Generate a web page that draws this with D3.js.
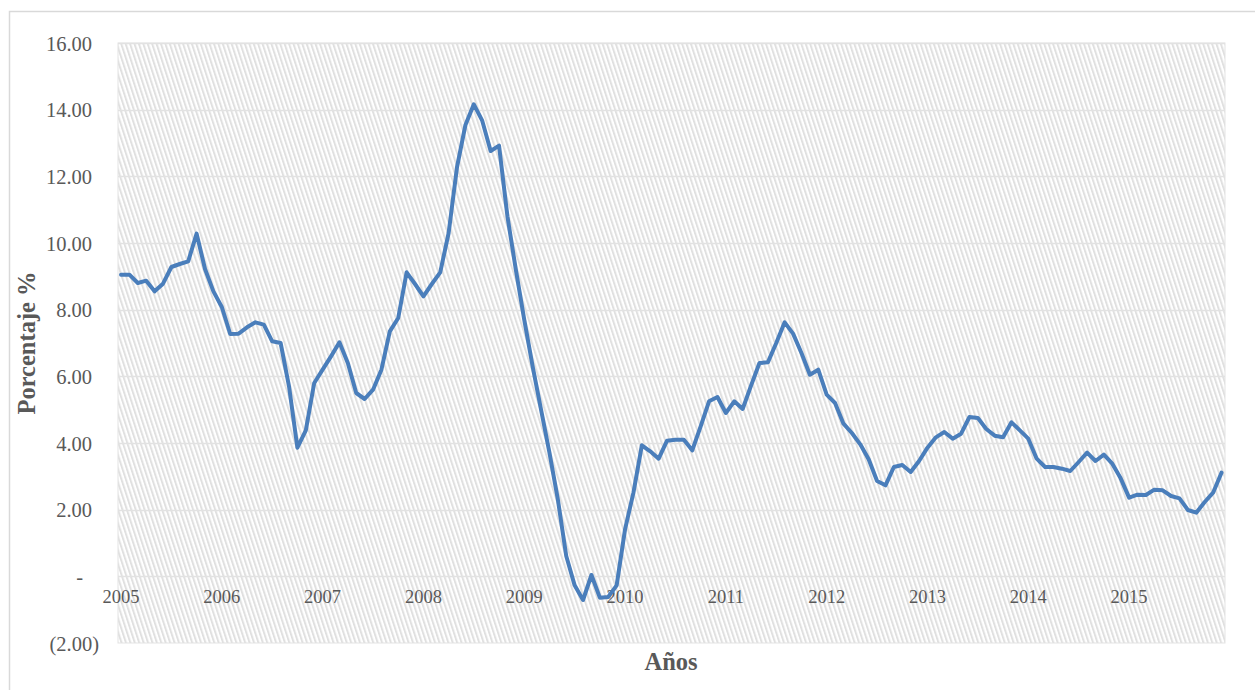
<!DOCTYPE html>
<html>
<head>
<meta charset="utf-8">
<script src="https://cdn.jsdelivr.net/npm/d3@7/dist/d3.min.js"></script>
<style>
  html, body { margin: 0; padding: 0; background: #ffffff; }
  svg { display: block; }
</style>
</head>
<body>
<div id="chart"></div>
<script>
// Monthly series, January 2005 – December 2015 (percent)
const years = [2005, 2006, 2007, 2008, 2009, 2010, 2011, 2012, 2013, 2014, 2015];
const values = [
  9.05, 9.05, 8.80, 8.87, 8.55, 8.78, 9.28, 9.37, 9.45, 10.28, 9.22, 8.55,   // 2005
  8.08, 7.27, 7.28, 7.47, 7.62, 7.55, 7.05, 7.00, 5.70, 3.86, 4.38, 5.80,    // 2006
  6.20, 6.60, 7.02, 6.40, 5.50, 5.32, 5.60, 6.20, 7.35, 7.75, 9.12, 8.77,    // 2007
  8.40, 8.77, 9.12, 10.30, 12.28, 13.54, 14.16, 13.67, 12.76, 12.92, 10.80, 9.20, // 2008
  7.70, 6.30, 5.00, 3.71, 2.31, 0.61, -0.27, -0.71, 0.04, -0.64, -0.62, -0.27, // 2009
  1.41, 2.51, 3.93, 3.75, 3.53, 4.07, 4.10, 4.10, 3.78, 4.50, 5.25, 5.38,    // 2010
  4.90, 5.25, 5.02, 5.72, 6.40, 6.42, 7.00, 7.62, 7.28, 6.70, 6.05, 6.20,    // 2011
  5.45, 5.20, 4.58, 4.30, 3.96, 3.51, 2.86, 2.73, 3.28, 3.34, 3.13, 3.46,    // 2012
  3.86, 4.17, 4.33, 4.13, 4.28, 4.78, 4.75, 4.42, 4.22, 4.17, 4.62, 4.38,    // 2013
  4.13, 3.53, 3.28, 3.28, 3.23, 3.16, 3.43, 3.71, 3.46, 3.65, 3.38, 2.94,    // 2014
  2.36, 2.45, 2.44, 2.60, 2.58, 2.41, 2.34, 1.99, 1.91, 2.23, 2.51, 3.11     // 2015
];
const yTicks = [-2, 0, 2, 4, 6, 8, 10, 12, 14, 16];
const yTickLabels = ["(2.00)", "-", "2.00", "4.00", "6.00", "8.00", "10.00", "12.00", "14.00", "16.00"];
const xTitle = "Años";
const yTitle = "Porcentaje %";

const W = 1255, H = 690;
const plot = { left: 118, right: 1225, top: 43, bottom: 643 };
const serif = "'Liberation Serif', 'Times New Roman', serif";

const svg = d3.select("#chart").append("svg")
  .attr("width", W).attr("height", H);

// Diagonal hatch used as the plot-area fill
const defs = svg.append("defs");
const pat = defs.append("pattern")
  .attr("id", "hatch")
  .attr("patternUnits", "userSpaceOnUse")
  .attr("width", 4.2).attr("height", 8)
  .attr("patternTransform", "rotate(-18)");
pat.append("rect").attr("width", 4.2).attr("height", 8).attr("fill", "#ffffff");
pat.append("rect").attr("width", 2).attr("height", 8).attr("fill", "#e0e0e0");

// Outer chart frame
svg.append("rect")
  .attr("x", 9.5).attr("y", 11.5)
  .attr("width", W + 20).attr("height", H + 20)
  .attr("fill", "#ffffff").attr("stroke", "#d9d9d9").attr("stroke-width", 1.5);

const x = d3.scaleLinear()
  .domain([0, values.length - 1])
  .range([plot.left + 3, plot.right - 3.5]);
const y = d3.scaleLinear()
  .domain([-2, 16])
  .range([plot.bottom, plot.top]);

// Plot area
svg.append("rect")
  .attr("x", plot.left).attr("y", plot.top)
  .attr("width", plot.right - plot.left).attr("height", plot.bottom - plot.top)
  .attr("fill", "url(#hatch)")
  .attr("stroke", "#e3e3e3").attr("stroke-width", 1);

// Horizontal gridlines
svg.append("g")
  .selectAll("line")
  .data(yTicks.filter(t => t > -2))
  .join("line")
  .attr("x1", plot.left).attr("x2", plot.right)
  .attr("y1", d => Math.round(y(d)) + 0.5).attr("y2", d => Math.round(y(d)) + 0.5)
  .attr("stroke", "#e2e2e2").attr("stroke-width", 1.5);

// Value axis labels (accounting style: negatives in parentheses, zero as a dash)
const yAxis = d3.axisLeft(y)
  .tickValues(yTicks)
  .tickSize(0)
  .tickPadding(0)
  .tickFormat((d, i) => yTickLabels[i]);
const gy = svg.append("g")
  .attr("transform", `translate(92,0)`)
  .call(yAxis);
gy.select(".domain").remove();
gy.selectAll("text")
  .attr("font-family", serif)
  .attr("font-size", 20.5)
  .attr("fill", "#595959")
  .attr("dy", "0.35em")
  .attr("dx", d => d < 0 ? 7 : (d === 0 ? -9 : 0));

// Year labels sit just under the zero line
const gx = svg.append("g")
  .attr("transform", `translate(0,${y(0)})`);
gx.selectAll("text")
  .data(years)
  .join("text")
  .attr("x", (d, i) => x(i * 12))
  .attr("y", 27)
  .attr("text-anchor", "middle")
  .attr("font-family", serif)
  .attr("font-size", 18.5)
  .attr("fill", "#595959")
  .text(d => d);

// Series line
const line = d3.line()
  .x((d, i) => x(i))
  .y(d => y(d));
svg.append("path")
  .datum(values)
  .attr("d", line)
  .attr("fill", "none")
  .attr("stroke", "#4a7ebb")
  .attr("stroke-width", 4)
  .attr("stroke-linejoin", "round")
  .attr("stroke-linecap", "round");

// Axis titles
svg.append("text")
  .attr("x", 671).attr("y", 670)
  .attr("text-anchor", "middle")
  .attr("font-family", serif)
  .attr("font-weight", "bold")
  .attr("font-size", 24.5)
  .attr("fill", "#595959")
  .text(xTitle);

svg.append("text")
  .attr("transform", "translate(35,343) rotate(-90)")
  .attr("text-anchor", "middle")
  .attr("font-family", serif)
  .attr("font-weight", "bold")
  .attr("font-size", 24.5)
  .attr("fill", "#595959")
  .text(yTitle);
</script>
</body>
</html>
